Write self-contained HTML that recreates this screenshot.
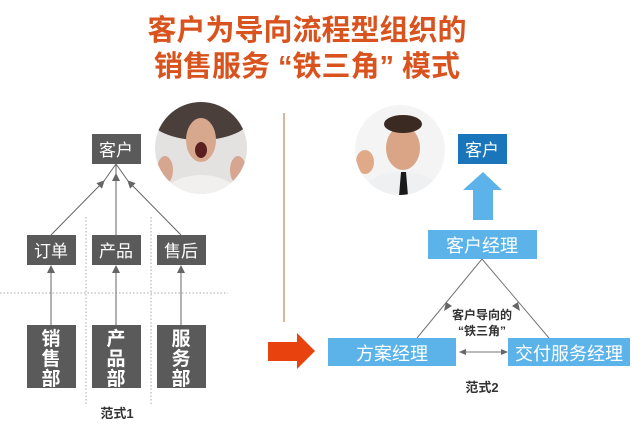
<!DOCTYPE html>
<html><head><meta charset="utf-8"><style>
html,body{margin:0;padding:0;background:#fff;}
svg{display:block;}
text{font-family:"Liberation Sans","Noto Sans CJK SC",sans-serif;}
</style></head><body>
<svg width="640" height="430" viewBox="0 0 640 430" xmlns="http://www.w3.org/2000/svg">
<defs>
<marker id="ag" markerWidth="8" markerHeight="8" refX="7" refY="4" orient="auto" markerUnits="userSpaceOnUse"><path d="M0,0 L8,4 L0,8 z" fill="#666"/></marker>
<clipPath id="c1"><circle cx="201" cy="148" r="46"/></clipPath>
<clipPath id="c2"><circle cx="400" cy="150" r="45"/></clipPath>
</defs>
<!-- title -->
<text x="307" y="40" text-anchor="middle" font-size="29" font-weight="bold" fill="#d9531e">客户为导向流程型组织的</text>
<text x="307" y="76" text-anchor="middle" font-size="29" font-weight="bold" fill="#d9531e" xml:space="preserve">销售服务 “铁三角” 模式</text>

<!-- divider -->
<line x1="284" y1="113" x2="284" y2="322" stroke="#c8a27a" stroke-width="1.5"/>

<!-- left dotted -->
<line x1="0" y1="293" x2="228" y2="293" stroke="#aaa" stroke-dasharray="1.5,2"/>
<line x1="86" y1="217" x2="86" y2="405" stroke="#aaa" stroke-dasharray="1.5,2"/>
<line x1="151" y1="217" x2="151" y2="405" stroke="#aaa" stroke-dasharray="1.5,2"/>

<!-- left connectors -->
<g stroke="#666" stroke-width="1">
<line x1="51" y1="235" x2="104" y2="181" marker-end="url(#ag)"/>
<line x1="116" y1="235" x2="116" y2="174" marker-end="url(#ag)"/>
<line x1="181" y1="235" x2="128" y2="181" marker-end="url(#ag)"/>
<line x1="116" y1="164" x2="104" y2="181"/>
<line x1="116" y1="164" x2="128" y2="181"/>
<line x1="116" y1="164" x2="116" y2="174"/>
<line x1="51" y1="325" x2="51" y2="266" marker-end="url(#ag)"/>
<line x1="116" y1="325" x2="116" y2="266" marker-end="url(#ag)"/>
<line x1="181" y1="325" x2="181" y2="266" marker-end="url(#ag)"/>
</g>

<!-- left boxes -->
<g fill="#5a5a5a">
<rect x="92" y="134" width="49" height="30"/>
<rect x="27" y="235" width="49" height="30"/>
<rect x="92" y="235" width="49" height="30"/>
<rect x="157" y="235" width="49" height="30"/>
<rect x="27" y="325" width="49" height="63"/>
<rect x="92" y="325" width="49" height="63"/>
<rect x="157" y="325" width="49" height="63"/>
</g>
<g fill="#fff" font-size="17" text-anchor="middle">
<text x="116" y="156">客户</text>
<text x="51" y="257">订单</text>
<text x="116" y="257">产品</text>
<text x="181" y="257">售后</text>
</g>
<g fill="#fff" font-size="19" font-weight="bold" text-anchor="middle">
<text x="51" y="345">销</text><text x="51" y="365">售</text><text x="51" y="385">部</text>
<text x="116" y="345">产</text><text x="116" y="365">品</text><text x="116" y="385">部</text>
<text x="181" y="345">服</text><text x="181" y="365">务</text><text x="181" y="385">部</text>
</g>
<text x="117" y="418" text-anchor="middle" font-size="13" font-weight="bold" fill="#333">范式1</text>

<!-- woman portrait -->
<g clip-path="url(#c1)">
<rect x="150" y="100" width="100" height="100" fill="#e4e2e0"/>
<ellipse cx="200" cy="118" rx="50" ry="22" fill="#4a3f3a"/>
<ellipse cx="201" cy="200" rx="40" ry="25" fill="#f2f0ee"/>
<ellipse cx="201" cy="140" rx="15" ry="22" fill="#d8a88e"/>
<ellipse cx="201" cy="150" rx="6" ry="8" fill="#5a2020"/>
<ellipse cx="165" cy="170" rx="8" ry="14" fill="#d6a690"/>
<ellipse cx="238" cy="170" rx="8" ry="14" fill="#d6a690"/>
</g>

<!-- orange arrow -->
<path d="M268,342 L297,342 L297,333 L315,351 L297,369 L297,361 L268,361 z" fill="#e8430f"/>

<!-- man portrait -->
<g clip-path="url(#c2)">
<rect x="350" y="100" width="100" height="100" fill="#f4f4f4"/>
<ellipse cx="402" cy="200" rx="44" ry="28" fill="#eef0f2"/>
<ellipse cx="403" cy="148" rx="17" ry="22" fill="#d9a586"/>
<ellipse cx="403" cy="124" rx="19" ry="9" fill="#3a2a22"/>
<path d="M401,172 L406,172 L408,196 L403,199 L399,196z" fill="#1a1a1a"/>
<ellipse cx="365" cy="162" rx="9" ry="12" fill="#e0aa88"/>
</g>

<!-- right side -->
<rect x="458" y="134" width="49" height="30" fill="#1a75bb"/>
<text x="482" y="156" text-anchor="middle" font-size="17" fill="#fff">客户</text>
<path d="M473,220 L493,220 L493,190 L502,190 L483,172 L463,190 L473,190 z" fill="#5cb3ea"/>
<rect x="428" y="230" width="109" height="29" fill="#5cb3ea"/>
<text x="482" y="252" text-anchor="middle" font-size="18" fill="#fff">客户经理</text>

<g stroke="#777" stroke-width="1">
<line x1="482" y1="259" x2="417" y2="338"/>
<line x1="482" y1="259" x2="549" y2="338"/>
<line x1="461" y1="352" x2="506" y2="352"/>
</g>
<path d="M446,302 L444,311 L452,306 z" fill="#666"/>
<path d="M518,302 L520,311 L512,306 z" fill="#666"/>
<path d="M459,352 L466,349 L466,355 z" fill="#666"/>
<path d="M508,352 L501,349 L501,355 z" fill="#666"/>

<rect x="328" y="338" width="128" height="28" fill="#5cb3ea"/>
<text x="392" y="360" text-anchor="middle" font-size="18" fill="#fff">方案经理</text>
<rect x="508" y="338" width="122" height="28" fill="#5cb3ea"/>
<text x="569" y="360" text-anchor="middle" font-size="18" fill="#fff">交付服务经理</text>

<text x="482" y="319" text-anchor="middle" font-size="12" font-weight="bold" fill="#333">客户导向的</text>
<text x="482" y="335" text-anchor="middle" font-size="12" font-weight="bold" fill="#333">“铁三角”</text>
<text x="482" y="392" text-anchor="middle" font-size="13" font-weight="bold" fill="#333">范式2</text>
</svg>
</body></html>
